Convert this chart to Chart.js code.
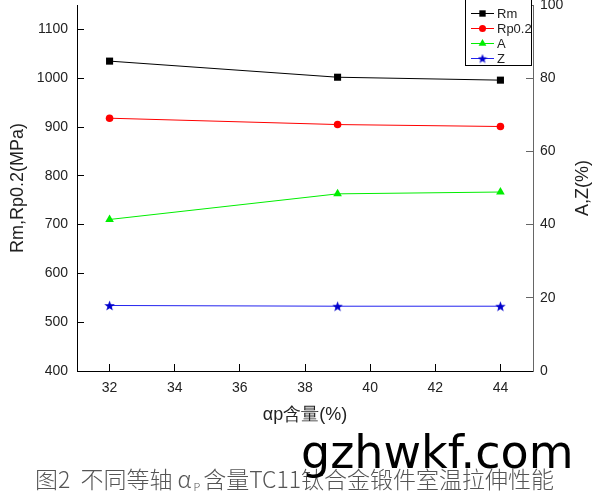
<!DOCTYPE html>
<html>
<head>
<meta charset="utf-8">
<script src="https://cdn.jsdelivr.net/npm/chart.js@4.4.1/dist/chart.umd.min.js"></script>
<style>
  html, body { margin: 0; padding: 0; background: #fff; }
  #wrap { position: relative; width: 596px; height: 503px; overflow: hidden; }
  #chart { position: absolute; left: 0; top: 0; }
  .caption {
    position: absolute; left: 35px; top: 467px; white-space: nowrap;
    font-family: "Noto Sans CJK SC", sans-serif; font-weight: 300;
    font-size: 23px; line-height: 1; color: #555;
  }
  .caption .sub { font-size: 11px; position: relative; top: 3px; margin: 0 3px 0 2px; }
  .mark {
    position: absolute; left: 301px; top: 429px; white-space: nowrap;
    font-family: "DejaVu Sans", sans-serif; font-size: 46px; line-height: 1; color: #000;
  }
</style>
</head>
<body>
<div id="wrap">
  <canvas id="chart" width="596" height="503"></canvas>
  <div class="caption">图2&nbsp;&nbsp;不同等轴 α<span class="sub">P</span>含量TC11钛合金锻件室温拉伸性能</div>
  <div class="mark">gzhwkf.com</div>
</div>
<script>
// Data
const alphaP = [32, 39, 44];           // αp content (%)
const rm = [1035, 1002, 996];          // MPa
const rp02 = [918, 905, 901];          // MPa
const elongA = [41.4, 48.4, 48.9];     // %
const reductionZ = [17.9, 17.7, 17.7]; // %

const xTicks = [32, 34, 36, 38, 40, 42, 44];
const leftTicks = [400, 500, 600, 700, 800, 900, 1000, 1100];
const rightTicks = [0, 20, 40, 60, 80, 100];

const FAMILY = '"Liberation Sans", Arial, sans-serif';
const TICK_FONT = { family: FAMILY, size: 14 };
const TITLE_FONT = { family: FAMILY, size: 18 };

// filled five-point star for the Z series
function makeStar(size, color) {
  const c = document.createElement('canvas');
  c.width = size; c.height = size;
  const ctx = c.getContext('2d');
  const cx = size / 2, cy = size / 2 + 0.5, R = size / 2, r = R * 0.42;
  ctx.beginPath();
  for (let i = 0; i < 10; i++) {
    const rad = i % 2 ? r : R;
    const a = -Math.PI / 2 + i * Math.PI / 5;
    ctx.lineTo(cx + rad * Math.cos(a), cy + rad * Math.sin(a));
  }
  ctx.closePath();
  ctx.fillStyle = color;
  ctx.fill();
  return c;
}
const starBig = makeStar(11, '#0000cc');
const starSmall = makeStar(10, '#0000cc');

const pts = ys => alphaP.map((x, i) => ({ x: x, y: ys[i] }));

const series = [
  { label: 'Rm', data: pts(rm), yAxisID: 'y', color: '#000000', fill: '#000000', style: 'rect', radius: 5, legendRadius: 4.5 },
  { label: 'Rp0.2', data: pts(rp02), yAxisID: 'y', color: '#ff0000', fill: '#ff0000', style: 'circle', radius: 3.8, legendRadius: 3.5 },
  { label: 'A', data: pts(elongA), yAxisID: 'y1', color: '#00ee00', fill: '#00ee00', style: 'triangle', radius: 5, legendRadius: 4.5 },
  { label: 'Z', data: pts(reductionZ), yAxisID: 'y1', color: '#2222ee', fill: '#0000cc', style: starBig, legendStyle: starSmall, radius: 5, legendRadius: 4 }
];

// boxed legend in the top-right corner, right axis title read bottom-to-top
const extras = {
  id: 'extras',
  afterDraw(chart) {
    const ctx = chart.ctx;
    ctx.save();
    ctx.fillStyle = '#fff';
    ctx.fillRect(465, -1, 66, 66);
    ctx.strokeStyle = '#000';
    ctx.lineWidth = 1;
    ctx.strokeRect(465.5, -1.5, 66, 67);
    series.forEach((s, i) => {
      const y = 13 + i * 15;
      ctx.strokeStyle = s.color;
      ctx.lineWidth = 1;
      ctx.beginPath();
      ctx.moveTo(471, y + 0.5);
      ctx.lineTo(494, y + 0.5);
      ctx.stroke();
      ctx.fillStyle = s.fill;
      Chart.helpers.drawPoint(ctx, {
        pointStyle: s.legendStyle || s.style, radius: s.legendRadius, rotation: 0, borderWidth: 0
      }, 482.5, y + 0.5);
      ctx.fillStyle = '#222';
      ctx.font = '13px ' + FAMILY;
      ctx.textBaseline = 'middle';
      ctx.fillText(s.label, 497, y + 1);
    });

    const area = chart.chartArea;
    ctx.translate(583, (area.top + area.bottom) / 2);
    ctx.rotate(-Math.PI / 2);
    ctx.font = '18px ' + FAMILY;
    ctx.fillStyle = '#222';
    ctx.textAlign = 'center';
    ctx.textBaseline = 'middle';
    ctx.fillText('A,Z(%)', 0, 0);
    ctx.restore();
  }
};

const noOverhang = s => { s.paddingTop = 0; s.paddingBottom = 0; s.paddingLeft = 0; s.paddingRight = 0; };

new Chart(document.getElementById('chart'), {
  type: 'line',
  data: {
    datasets: series.map(s => ({
      label: s.label,
      data: s.data,
      yAxisID: s.yAxisID,
      borderColor: s.color,
      backgroundColor: s.fill,
      borderWidth: 1,
      pointStyle: s.style,
      pointRadius: s.radius,
      pointBorderWidth: 0,
      tension: 0
    }))
  },
  options: {
    responsive: false,
    animation: false,
    layout: { padding: { top: 4, left: 0, right: 0, bottom: 0 } },
    plugins: { legend: { display: false }, tooltip: { enabled: false } },
    scales: {
      x: {
        type: 'linear', min: 31, max: 45,
        afterFit: s => { s.height = 132; noOverhang(s); },
        afterBuildTicks: s => { s.ticks = xTicks.map(v => ({ value: v })); },
        border: { color: '#000', width: 1 },
        grid: { drawOnChartArea: false, tickLength: -7, color: '#000' },
        ticks: { font: TICK_FONT, color: '#222', padding: 16, maxRotation: 0, callback: v => String(v) },
        title: { display: true, text: 'αp含量(%)', font: TITLE_FONT, color: '#222', padding: { top: 0, bottom: 77 } }
      },
      y: {
        position: 'left', min: 400, max: 1150,
        afterFit: s => { s.width = 77; noOverhang(s); },
        afterBuildTicks: s => { s.ticks = leftTicks.map(v => ({ value: v })); },
        border: { color: '#000', width: 1 },
        grid: { drawOnChartArea: false, tickLength: -7, color: '#000' },
        ticks: { font: TICK_FONT, color: '#222', padding: 16, callback: v => String(v) },
        title: { display: true, text: 'Rm,Rp0.2(MPa)', font: TITLE_FONT, color: '#222', padding: { top: 7, bottom: 0 } }
      },
      y1: {
        position: 'right', min: 0, max: 100,
        afterFit: s => { s.width = 63; noOverhang(s); },
        afterBuildTicks: s => { s.ticks = rightTicks.map(v => ({ value: v })); },
        border: { color: '#666', width: 1 },
        grid: { drawOnChartArea: false, tickLength: -7, color: '#666' },
        ticks: { font: TICK_FONT, color: '#222', padding: 14, callback: v => String(v) },
        title: { display: false }
      }
    }
  },
  plugins: [extras]
});
</script>
</body>
</html>
